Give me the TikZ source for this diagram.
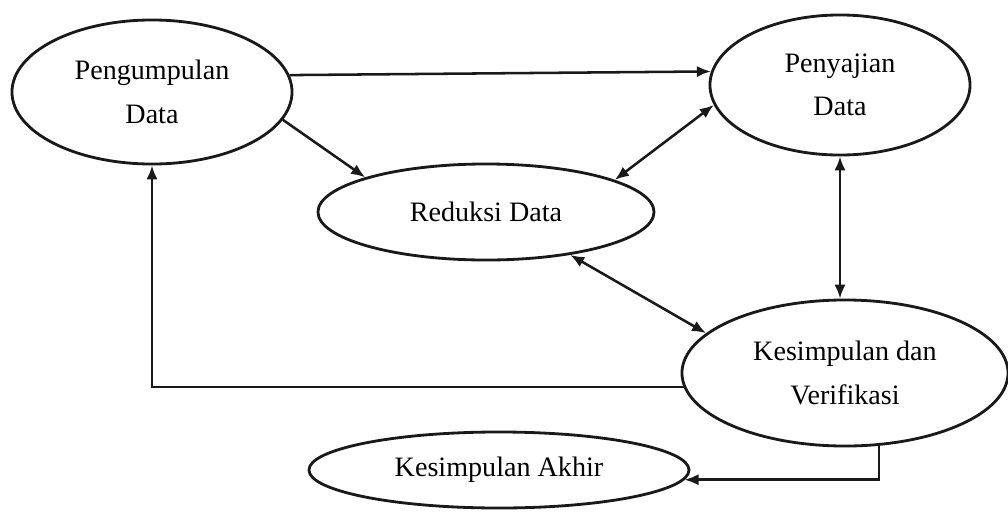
\documentclass[tikz,border=0pt]{standalone}
\usepackage{fontspec}
\setmainfont{Liberation Serif}
\usetikzlibrary{shapes.geometric,arrows.meta}
\begin{document}
\begin{tikzpicture}[x=0.025cm,y=-0.025cm,
  blob/.style={draw=black!90,line width=2pt,ellipse,inner sep=0pt,align=center,
    font=\fontsize{20}{31}\selectfont},
  link/.style={draw=black!90,line width=1.8pt,-{Latex[length=10pt,width=8pt]}},
  dlink/.style={link,{Latex[length=10pt,width=8pt]}-{Latex[length=10pt,width=8pt]}}]
\path[use as bounding box,fill=white] (0,0) rectangle (1008,521);
\node[blob,minimum width=7cm,minimum height=3.6cm] (pen) at (152,92) {Pengumpulan\\Data};
\node[blob,minimum width=6.5cm,minimum height=3.5cm] (pd) at (840,85) {Penyajian\\Data};
\node[blob,minimum width=8.4cm,minimum height=2.4cm] (rd) at (486,212) {Reduksi Data};
\node[blob,minimum width=8.15cm,minimum height=3.65cm] (kv) at (845,373) {Kesimpulan dan\\Verifikasi};
\node[blob,minimum width=9.5cm,minimum height=1.9cm] (ak) at (499,470) {Kesimpulan Akhir};
\draw[link] (pen.7) -- (pd.174);
\draw[link] (pen.-12) -- (rd.164);
\draw[dlink] (rd.14) -- (pd.189);
\draw[dlink] (pd.south) -- (pd.south |- kv.north);
\draw[dlink] (rd.-27) -- (kv.164);
\draw[link] (kv.185) -| (pen.south);
\draw[link] (kv.-65) |- (ak.-3);
\end{tikzpicture}
\end{document}
